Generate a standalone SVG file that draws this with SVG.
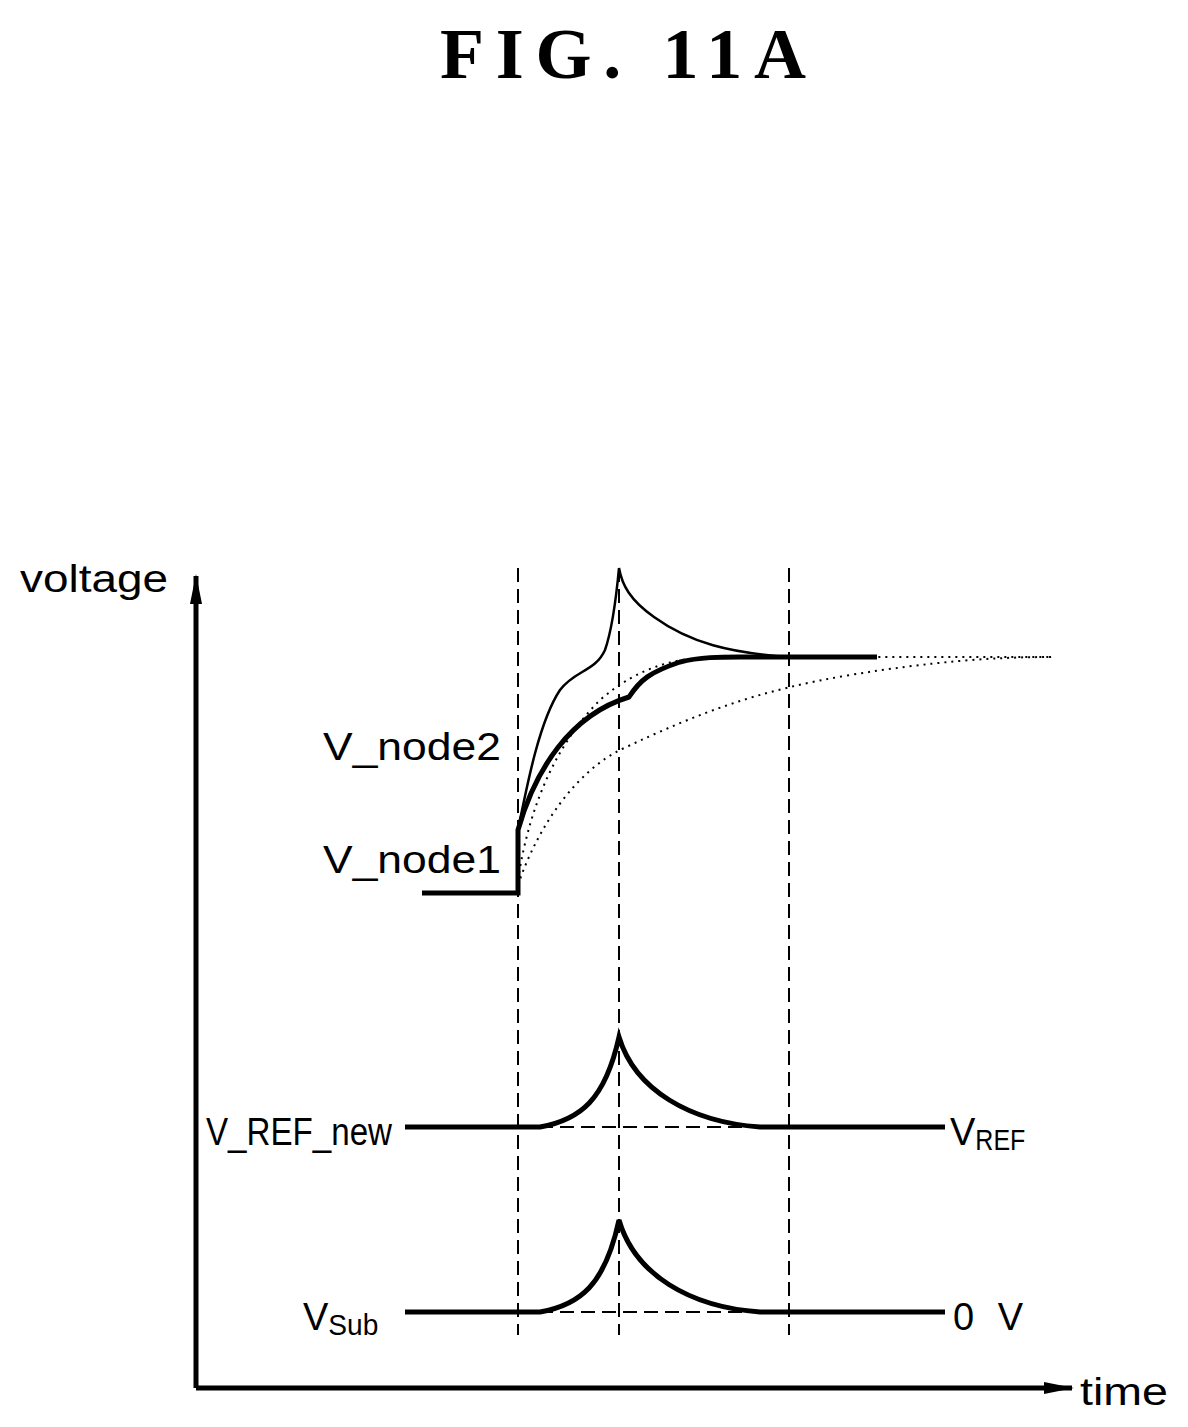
<svg xmlns="http://www.w3.org/2000/svg" width="1188" height="1427" viewBox="0 0 1188 1427">
<style>
.t{font-family:"Liberation Sans",Arial,sans-serif;font-size:38px;fill:#000}
.thin{fill:none;stroke:#000;stroke-width:2.5}
.thick{fill:none;stroke:#000;stroke-width:5}
.dash{fill:none;stroke:#000;stroke-width:2;stroke-dasharray:14,7}
.dot{fill:none;stroke:#000;stroke-width:2;stroke-dasharray:2,5}
</style>
<defs>
<marker id="av" markerWidth="30" markerHeight="12" refX="28" refY="6" orient="auto" markerUnits="userSpaceOnUse" viewBox="0 0 30 12"><path d="M0,0 L30,6 L0,12 z" fill="#000"/></marker></defs>
<rect width="1188" height="1427" fill="#fff"/>
<text x="440" y="78" textLength="366" lengthAdjust="spacing" style="font-family:'Liberation Serif',serif;font-weight:bold;font-size:72px">FIG.  11A</text>
<g id="axes">
<line x1="196" y1="1388" x2="196" y2="576" class="thick" stroke-width="4" marker-end="url(#av)"/>
<line x1="196" y1="1388" x2="1072" y2="1388" class="thick" stroke-width="4" marker-end="url(#av)"/>
<text class="t" x="20" y="592" font-size="40" textLength="148" lengthAdjust="spacingAndGlyphs">voltage</text>
<text class="t" x="1080" y="1405" font-size="40" textLength="88" lengthAdjust="spacingAndGlyphs">time</text>
</g>
<g id="guides">
<line x1="518" y1="568" x2="518" y2="1335" class="dash"/>
<line x1="619" y1="568" x2="619" y2="1335" class="dash"/>
<line x1="789" y1="568" x2="789" y2="1335" class="dash"/>
<line x1="518" y1="1127" x2="789" y2="1127" class="dash"/>
<line x1="518" y1="1312" x2="789" y2="1312" class="dash"/>
</g>
<g id="curves">
<path class="dot" d="M518,880 C530,800 560,740 600,700 C640,665 680,657 720,657 L1052,657"/>
<path class="dot" d="M518,885 C540,820 580,770 620,750 C700,712 760,690 850,675 C930,662 990,657 1052,657"/>
<path class="thin" d="M518,830 C528,780 540,720 560,690 C575,670 595,672 605,650 C612,630 616,600 619,568 C622,585 630,600 654,617 C690,643 730,653 790,657"/>
<path class="thick" d="M422,893 L518,893 L518,830 C535,770 570,715 629,697 C640,680 650,672 680,662 C700,657 720,657 740,657 L877,657"/>
</g>
<g id="vref">
<path class="thick" stroke-width="4" d="M405,1127 L540,1127 C580,1120 605,1100 619,1037 C635,1090 690,1122 760,1127 L945,1127"/>
<text class="t" x="392" y="1145" text-anchor="end" textLength="186" lengthAdjust="spacingAndGlyphs">V_REF_new</text>
<text class="t" x="950" y="1145">V<tspan font-size="30" dy="5" textLength="50" lengthAdjust="spacingAndGlyphs">REF</tspan></text>
</g>
<g id="vsub">
<path class="thick" stroke-width="4" d="M405,1312 L540,1312 C580,1305 605,1285 619,1220 C635,1275 690,1307 760,1312 L945,1312"/>
<text class="t" x="303" y="1330">V<tspan font-size="30" dy="5" textLength="50" lengthAdjust="spacingAndGlyphs">Sub</tspan></text>
<text class="t" x="953" y="1330" textLength="70" lengthAdjust="spacing">0 V</text>
</g>
<g id="labels">
<text class="t" x="323" y="760" textLength="178" lengthAdjust="spacingAndGlyphs">V_node2</text>
<text class="t" x="323" y="873" textLength="178" lengthAdjust="spacingAndGlyphs">V_node1</text>
</g>
</svg>
